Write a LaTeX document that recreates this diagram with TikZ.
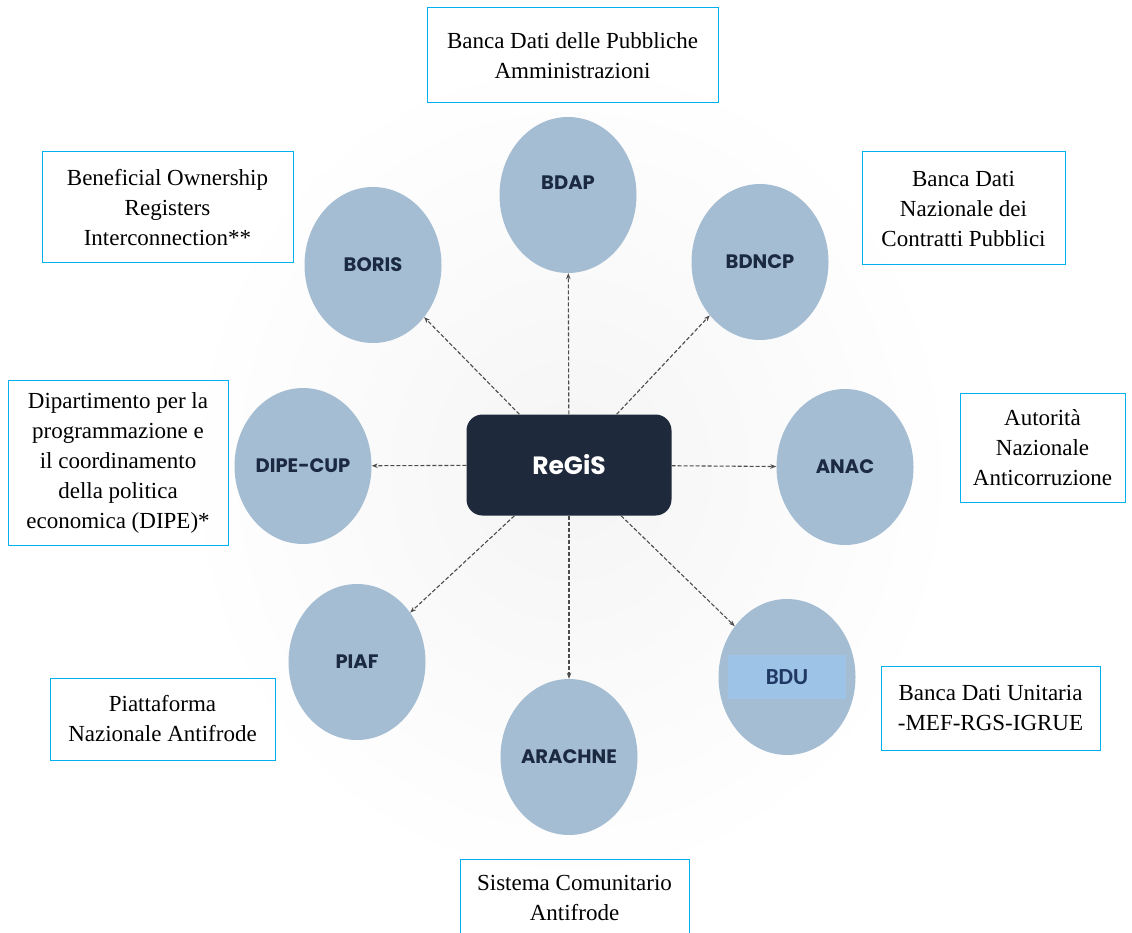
\documentclass[tikz,border=0pt]{standalone}
\usepackage{fontspec}
\setmainfont{Liberation Serif}
\newfontfamily\popfont{Poppins}
\newfontfamily\calfont{Carlito}
\usetikzlibrary{arrows.meta, shapes.geometric}
\definecolor{hubnavy}{HTML}{1E293B}
\definecolor{sysblue}{HTML}{A4BDD3}
\definecolor{systext}{HTML}{1B2A41}
\definecolor{bdublue}{HTML}{9DC3E6}
\definecolor{bdutext}{HTML}{1F3864}
\definecolor{cyanline}{HTML}{00B0F0}
\tikzset{
  hub/.style={draw=none, rounded corners=16pt, fill=hubnavy, minimum width=205pt, minimum height=101pt,
    text=white, font=\popfont\bfseries\fontsize{25}{28}\selectfont},
  sys/.style={ellipse, fill=sysblue, minimum width=137pt, minimum height=156pt, inner sep=0pt,
    text=systext, font=\popfont\bfseries\fontsize{19.5}{22}\selectfont},
  band/.style={fill=bdublue, minimum width=118pt, minimum height=44pt, inner sep=0pt,
    text=bdutext, font=\calfont\bfseries\fontsize{23}{26}\selectfont},
  lbl/.style 2 args={draw=cyanline, line width=1pt, minimum width=#1, minimum height=#2,
    align=center, font=\fontsize{23}{30}\selectfont},
  link/.style={-{Stealth[length=6pt, width=4.5pt]}, draw=black!70, line width=1.1pt,
    dash pattern=on 4pt off 2pt},
}

\begin{document}
\begin{tikzpicture}[x=1pt, y=-1pt]
    \clip (0,0) rectangle (1132,933);
    \shade[inner color=black!4, outer color=white] (570,470) ellipse (390 and 420);
    \node[hub] (regis) at (569,465) {ReGiS};
    \node[sys] (bdap) at (568,195) {};
    \node[text=systext, font=\popfont\bfseries\fontsize{19.5}{22}\selectfont] (bdapt) at (568,183) {BDAP};
    \node[sys] (bdncp) at (760,262) {BDNCP};
    \node[sys] (anac) at (845,467) {ANAC};
    \node[sys] (bdu) at (787,677) {};
    \node[band] (bdub) at (bdu) {BDU};
    \node[sys] (arachne) at (569,757) {ARACHNE};
    \node[sys] (piaf) at (357,662) {PIAF};
    \node[sys] (dipe) at (303,466) {DIPE-CUP};
    \node[sys] (boris) at (373,265) {BORIS};
    \foreach \t in {bdap, bdncp, anac, bdu, arachne, piaf, dipe, boris}
      \draw[link] (regis) -- (\t);
    \node[lbl={291pt}{95pt}] (tbdap) at (572.5,55.5) {Banca Dati delle Pubbliche\\Amministrazioni};
    \node[lbl={251pt}{111pt}] (tboris) at (167.5,207.5) {Beneficial Ownership\\Registers\\Interconnection**};
    \node[lbl={203pt}{113pt}] (tbdncp) at (963.5,208.5) {Banca Dati\\Nazionale dei\\Contratti Pubblici};
    \node[lbl={220pt}{165pt}] (tdipe) at (118,462.5) {Dipartimento per la\\programmazione e\\il coordinamento\\della politica\\economica (DIPE)*};
    \node[lbl={165pt}{109pt}] (tanac) at (1042.5,447.5) {Autorità\\Nazionale\\Anticorruzione};
    \node[lbl={219pt}{84pt}] (tbdu) at (990.5,708) {Banca Dati Unitaria\\-MEF-RGS-IGRUE};
    \node[lbl={225pt}{82pt}] (tpiaf) at (162.5,719) {Piattaforma\\Nazionale Antifrode};
    \node[lbl={229pt}{78pt}] (tarachne) at (574.5,898) {Sistema Comunitario\\Antifrode};
  \end{tikzpicture}
\end{document}
